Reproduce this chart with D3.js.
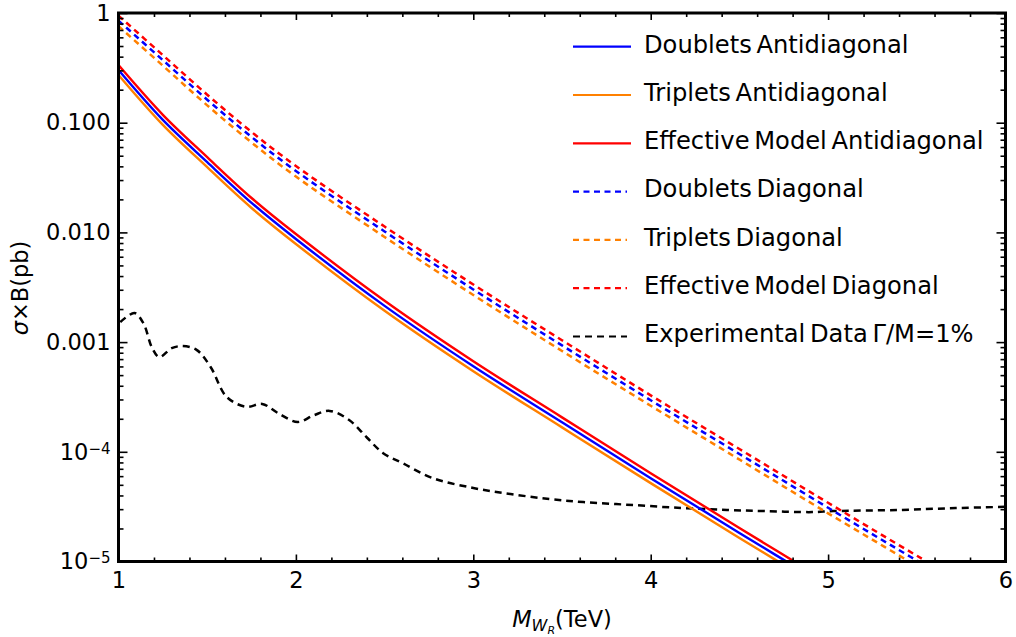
<!DOCTYPE html>
<html>
<head>
<meta charset="utf-8">
<script src="https://cdn.jsdelivr.net/npm/d3@7"></script>
<style>
	body { margin: 0; background: #fff; }
	text { font-family: "DejaVu Sans", sans-serif; fill: #000; }
</style>
</head>
<body>
<div id="chart"></div>
<script>
"use strict";

var massGrid = [1, 1.25, 1.5, 1.75, 2, 2.5, 3, 3.5, 4, 4.5, 5, 5.5, 6];

// sigma x B in pb, antidiagonal (solid)
var doubletsAnti = [0.302, 0.106, 0.0437, 0.0186, 0.00871, 0.00214, 6.03e-4, 1.86e-4, 5.75e-5, 1.82e-5, 5.9e-6];
var tripletsAnti = [0.272, 0.0955, 0.0393, 0.0167, 0.00784, 0.00193, 5.43e-4, 1.67e-4, 5.18e-5, 1.64e-5, 5.3e-6];
var effectiveAnti = [0.335, 0.118, 0.0485, 0.0206, 0.00967, 0.00238, 6.69e-4, 2.06e-4, 6.38e-5, 2.02e-5, 6.5e-6];

// diagonal (dashed)
var doubletsDiag = [0.851, 0.372, 0.162, 0.0741, 0.0363, 0.0102, 0.00302, 9.33e-4, 2.95e-4, 9.55e-5, 3.09e-5, 1.02e-5, 3.4e-6];
var tripletsDiag = [0.758, 0.331, 0.144, 0.0660, 0.0323, 0.00908, 0.00269, 8.3e-4, 2.63e-4, 8.5e-5, 2.75e-5, 9.1e-6, 3.0e-6];
var effectiveDiag = [0.945, 0.413, 0.180, 0.0823, 0.0403, 0.0113, 0.00335, 1.04e-3, 3.27e-4, 1.06e-4, 3.43e-5, 1.13e-5, 3.8e-6];

// experimental limit, Gamma/M = 1%
var expMass = [1.01, 1.09, 1.14, 1.19, 1.23, 1.30, 1.36, 1.44, 1.52, 1.61, 1.72, 1.81, 1.90, 2.01, 2.10, 2.19, 2.30, 2.40, 2.49, 2.60, 2.77, 3.0, 3.21, 3.43, 3.62, 3.9, 4.18, 4.43, 4.65, 4.91, 5.03, 5.4, 5.72, 6.0];
var expLimit = [0.00152, 0.00184, 0.00149, 0.00088, 0.00073, 0.00088, 0.00092, 0.00085, 0.00059, 0.000316, 0.000257, 0.000273, 0.000225, 0.000187, 0.000215, 0.000236, 0.000195, 0.000135, 0.0000977, 0.0000790, 0.0000577, 0.0000468, 0.0000412, 0.0000371, 0.0000348, 0.0000327, 0.0000307, 0.0000295, 0.0000288, 0.0000282, 0.0000288, 0.0000295, 0.0000307, 0.0000315];

var xTickValues = [1, 2, 3, 4, 5, 6];
var yTickValues = [1e-5, 1e-4, 1e-3, 1e-2, 1e-1, 1];
var yTickLabels = ["10|−5", "10|−4", "0.001", "0.010", "0.100", "1"];

var seriesNames = ["Doublets Antidiagonal", "Triplets Antidiagonal", "Effective Model Antidiagonal",
	"Doublets Diagonal", "Triplets Diagonal", "Effective Model Diagonal", "Experimental Data Γ/M=1%"];

var blue = "#0000ff", orange = "#ff8000", red = "#ff0000";

var series = [
	{ name: seriesNames[0], x: massGrid, y: doubletsAnti, color: blue, dash: null },
	{ name: seriesNames[1], x: massGrid, y: tripletsAnti, color: orange, dash: null },
	{ name: seriesNames[2], x: massGrid, y: effectiveAnti, color: red, dash: null },
	{ name: seriesNames[3], x: massGrid, y: doubletsDiag, color: blue, dash: "6,4.5" },
	{ name: seriesNames[4], x: massGrid, y: tripletsDiag, color: orange, dash: "6,4.5" },
	{ name: seriesNames[5], x: massGrid, y: effectiveDiag, color: red, dash: "6,4.5" },
	{ name: seriesNames[6], x: expMass, y: expLimit, color: "#000", dash: "7,5" }
];

var W = 1016, H = 637;
var plot = { left: 118.5, right: 1005.5, top: 13, bottom: 561.5 };

var svg = d3.select("#chart").append("svg")
	.attr("width", W)
	.attr("height", H);

var x = d3.scaleLinear().domain([1, 6]).range([plot.left, plot.right]);
var y = d3.scaleLog().domain([1e-5, 1]).range([plot.bottom, plot.top]);

svg.append("clipPath").attr("id", "clip")
	.append("rect")
	.attr("x", plot.left).attr("y", plot.top)
	.attr("width", plot.right - plot.left)
	.attr("height", plot.bottom - plot.top);

// curves; antidiagonal ones drawn last so they sit on top
var line = d3.line().curve(d3.curveCatmullRom.alpha(0.5));
var curves = svg.append("g").attr("clip-path", "url(#clip)");
[6, 4, 3, 5, 1, 0, 2].forEach(function (i) {
	var s = series[i];
	var pts = s.y.map(function (v, j) { return [x(s.x[j]), y(v)]; });
	curves.append("path")
		.attr("d", line(pts))
		.attr("fill", "none")
		.attr("stroke", s.color)
		.attr("stroke-width", s.dash ? 2.5 : 2.4)
		.attr("stroke-dasharray", s.dash);
});

// minor ticks
var xMinor = d3.range(1, 6.001, 0.2).filter(function (v) { return Math.abs(v - Math.round(v)) > 1e-6; });
var yMinor = [];
[1e-5, 1e-4, 1e-3, 1e-2, 1e-1].forEach(function (p) {
	for (var k = 2; k <= 9; k++) yMinor.push(k * p);
});

function axis(gen, pos, values, size, pad) {
	var g = svg.append("g")
		.attr("transform", pos)
		.call(gen.tickValues(values).tickSize(-size).tickPadding(pad));
	g.select(".domain").remove();
	g.selectAll(".tick line").attr("stroke", "#000").attr("stroke-width", 1.6);
	g.selectAll("text").style("font-size", "22.5px").attr("font-family", null);
	return g;
}

var bottomPos = "translate(0," + plot.bottom + ")", topPos = "translate(0," + plot.top + ")";
var leftPos = "translate(" + plot.left + ",0)", rightPos = "translate(" + plot.right + ",0)";

axis(d3.axisBottom(x).tickFormat(d3.format("d")), bottomPos, xTickValues, 7, 11);
axis(d3.axisBottom(x).tickFormat(""), bottomPos, xMinor, 4, 0);
axis(d3.axisTop(x).tickFormat(""), topPos, xTickValues, 7, 0);
axis(d3.axisTop(x).tickFormat(""), topPos, xMinor, 4, 0);

var yAxis = axis(d3.axisLeft(y).tickFormat(""), leftPos, yTickValues, 9, 8);
axis(d3.axisLeft(y).tickFormat(""), leftPos, yMinor, 5, 0);
axis(d3.axisRight(y).tickFormat(""), rightPos, yTickValues, 9, 0);
axis(d3.axisRight(y).tickFormat(""), rightPos, yMinor, 5, 0);

// y labels, with superscripts for the powers of ten
yAxis.selectAll(".tick text").each(function (d, i) {
	var parts = yTickLabels[i].split("|");
	var t = d3.select(this).text(parts[0]);
	if (parts.length > 1) {
		t.append("tspan").attr("dy", "-0.4em").style("font-size", "15px").text(parts[1]);
	}
});

// frame
svg.append("rect")
	.attr("x", plot.left).attr("y", plot.top)
	.attr("width", plot.right - plot.left)
	.attr("height", plot.bottom - plot.top)
	.attr("fill", "none")
	.attr("stroke", "#000")
	.attr("stroke-width", 3);

// axis titles
var xt = svg.append("text")
	.attr("x", 562).attr("y", 627)
	.attr("text-anchor", "middle")
	.style("font-size", "22.5px");
xt.append("tspan").style("font-style", "italic").text("M");
xt.append("tspan").style("font-style", "italic").style("font-size", "16px").attr("dy", 4).text("W");
xt.append("tspan").style("font-style", "italic").style("font-size", "11px").attr("dy", 3).text("R");
xt.append("tspan").attr("dy", -7).text("(TeV)");

var yt = svg.append("text")
	.attr("transform", "translate(28,288) rotate(-90)")
	.attr("text-anchor", "middle")
	.style("font-size", "22.5px");
yt.append("tspan").style("font-style", "italic").text("σ");
yt.append("tspan").text("×B(pb)");

// legend
var legend = svg.append("g");
series.forEach(function (s, i) {
	var ly = 46.7 + i * 48.3;
	legend.append("line")
		.attr("x1", 573).attr("x2", s.dash ? 627 : 631)
		.attr("y1", ly).attr("y2", ly)
		.attr("stroke", s.color)
		.attr("stroke-width", 2.2)
		.attr("stroke-dasharray", s.dash);
	legend.append("text")
		.attr("x", 644).attr("y", ly + 5.8)
		.style("font-size", "24.2px")
		.style("word-spacing", "-3px")
		.text(s.name);
});
</script>
</body>
</html>
